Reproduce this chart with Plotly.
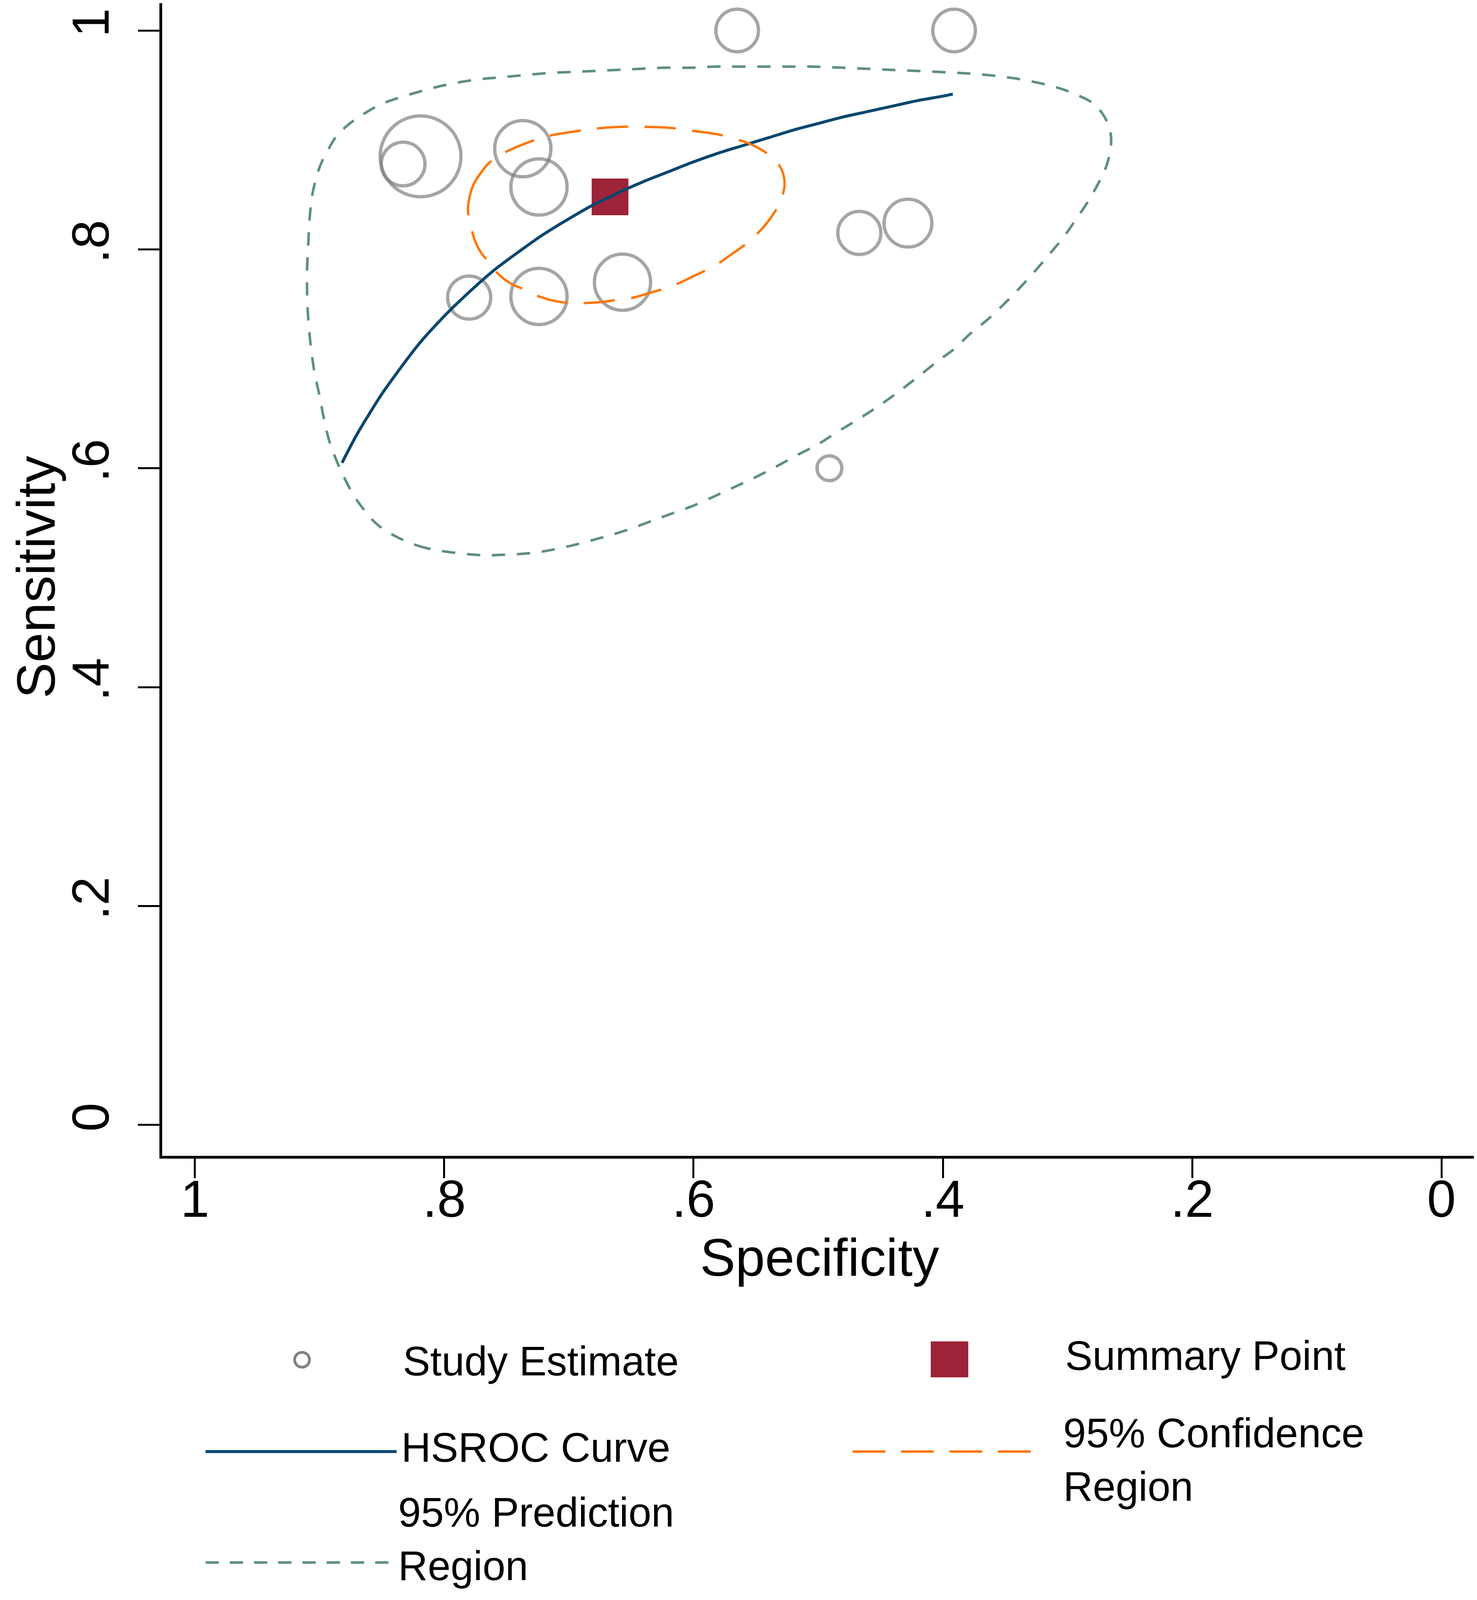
import plotly.graph_objects as go
import numpy as np


# Study estimates (specificity, sensitivity) and relative study weights
study_spec = [0.565, 0.391, 0.819, 0.833, 0.737, 0.724, 0.467, 0.428, 0.780, 0.724, 0.657, 0.491]
study_sens = [1.000, 1.000, 0.885, 0.878, 0.892, 0.857, 0.815, 0.824, 0.756, 0.757, 0.770, 0.600]
study_weight = [1.00, 1.00, 3.60, 1.05, 1.74, 1.74, 1.02, 1.26, 1.02, 1.74, 1.74, 0.34]

# Summary point
summary_spec = [0.667]
summary_sens = [0.848]

# HSROC curve
hsroc_spec = [0.882, 0.870, 0.860, 0.850, 0.840, 0.820, 0.800, 0.780, 0.760, 0.740,
              0.720, 0.700, 0.680, 0.667, 0.660, 0.640, 0.620, 0.600, 0.580, 0.560,
              0.540, 0.520, 0.500, 0.480, 0.460, 0.440, 0.420, 0.400, 0.392]
hsroc_sens = [0.605, 0.631, 0.650, 0.668, 0.684, 0.714, 0.739, 0.761, 0.781, 0.798,
              0.814, 0.828, 0.841, 0.848, 0.852, 0.862, 0.871, 0.880, 0.888, 0.895,
              0.902, 0.909, 0.915, 0.921, 0.926, 0.931, 0.936, 0.940, 0.942]

# 95% confidence region
ci_spec = [0.781, 0.777, 0.770, 0.764, 0.754, 0.743, 0.732, 0.719, 0.694, 0.682,
           0.657, 0.643, 0.618, 0.605, 0.580, 0.567, 0.556, 0.544, 0.535, 0.529,
           0.527, 0.530, 0.535, 0.542, 0.550, 0.559, 0.569, 0.579, 0.590, 0.601,
           0.612, 0.624, 0.636, 0.648, 0.661, 0.673, 0.687, 0.699, 0.712, 0.724,
           0.735, 0.747, 0.757, 0.764, 0.771, 0.776, 0.779, 0.781]
ci_sens = [0.837, 0.858, 0.871, 0.879, 0.887, 0.893, 0.898, 0.903, 0.908, 0.910,
           0.912, 0.912, 0.911, 0.909, 0.905, 0.901, 0.897, 0.890, 0.882, 0.872,
           0.859, 0.845, 0.834, 0.823, 0.813, 0.804, 0.796, 0.788, 0.781, 0.775,
           0.769, 0.764, 0.760, 0.756, 0.754, 0.752, 0.751, 0.751, 0.753, 0.757,
           0.763, 0.769, 0.778, 0.788, 0.798, 0.810, 0.824, 0.837]

# 95% prediction region
pred_spec = [0.775, 0.814, 0.832, 0.847, 0.856, 0.865, 0.873, 0.880, 0.886, 0.892,
             0.897, 0.900, 0.904, 0.907, 0.909, 0.910, 0.910, 0.909, 0.908, 0.906,
             0.903, 0.899, 0.894, 0.888, 0.879, 0.867, 0.850, 0.832, 0.814, 0.796,
             0.775, 0.757, 0.738, 0.718, 0.700, 0.679, 0.661, 0.642, 0.622, 0.601,
             0.583, 0.565, 0.544, 0.523, 0.505, 0.481, 0.441, 0.401, 0.371, 0.341,
             0.312, 0.294, 0.278, 0.268, 0.265, 0.268, 0.275, 0.284, 0.294, 0.304,
             0.315, 0.327, 0.339, 0.351, 0.364, 0.378, 0.391, 0.404, 0.424, 0.439,
             0.454, 0.469, 0.485, 0.500, 0.517, 0.533, 0.550, 0.567, 0.584, 0.602,
             0.619, 0.631, 0.655, 0.679, 0.703, 0.727, 0.751, 0.775]
pred_sens = [0.521, 0.527, 0.534, 0.543, 0.551, 0.563, 0.576, 0.591, 0.606, 0.624,
             0.648, 0.666, 0.687, 0.711, 0.735, 0.759, 0.783, 0.807, 0.828, 0.849,
             0.864, 0.878, 0.889, 0.901, 0.912, 0.922, 0.933, 0.940, 0.946, 0.951,
             0.955, 0.957, 0.959, 0.961, 0.962, 0.963, 0.964, 0.965, 0.966, 0.966,
             0.967, 0.967, 0.967, 0.967, 0.967, 0.966, 0.964, 0.962, 0.960, 0.956,
             0.949, 0.942, 0.932, 0.916, 0.901, 0.879, 0.861, 0.843, 0.826, 0.810,
             0.795, 0.779, 0.764, 0.750, 0.736, 0.723, 0.709, 0.698, 0.680, 0.667,
             0.655, 0.644, 0.633, 0.622, 0.612, 0.602, 0.592, 0.583, 0.574, 0.565,
             0.558, 0.553, 0.543, 0.535, 0.528, 0.523, 0.521, 0.521]

tick_vals = [1, 0.8, 0.6, 0.4, 0.2, 0]
tick_text = ['1', '.8', '.6', '.4', '.2', '0']


# Кольори
GRAY = '#808080'
NAVY = '#08466e'
ORANGE = '#ff7500'
CRANBERRY = '#9d2438'
GREEN = '#5e8f80'
FONT = 'Liberation Sans, Arial, sans-serif'

# Розміри (сторінка має відступ 8px, видима висота ~4096px)
OFF = 8
W, H = 3780 - OFF, 4096 - OFF
L = 415 - OFF
PLOT_BOTTOM = 2959 - OFF
B = H - PLOT_BOTTOM
PW, PH = W - L, H - B


def px(x, y):
    # піксель сторінки -> paper координати
    return (x - OFF - L) / PW, (PLOT_BOTTOM - (y - OFF)) / PH


fig = go.Figure()

fig.add_trace(go.Scatter(
    x=study_spec, y=study_sens, mode='markers',
    marker=dict(size=[109 * np.sqrt(w) for w in study_weight], color='rgba(0,0,0,0)',
                line=dict(color=GRAY, width=8.5)),
    name='Study Estimate'
))

fig.add_trace(go.Scatter(
    x=summary_spec, y=summary_sens, mode='markers',
    marker=dict(size=94, symbol='square', color=CRANBERRY, line=dict(width=0)),
    name='Summary Point'
))

fig.add_trace(go.Scatter(
    x=hsroc_spec, y=hsroc_sens, mode='lines',
    line=dict(color=NAVY, width=7.5, shape='spline'),
    name='HSROC Curve'
))

fig.add_trace(go.Scatter(
    x=ci_spec, y=ci_sens, mode='lines',
    line=dict(color=ORANGE, width=6, dash='80px,42px', shape='spline'),
    name='95% Confidence Region'
))

fig.add_trace(go.Scatter(
    x=pred_spec, y=pred_sens, mode='lines',
    line=dict(color=GREEN, width=6.5, dash='34px,30px', shape='spline'),
    name='95% Prediction Region'
))


# Легенда вручну
shapes = []
cx, cy = px(773, 3481)
shapes.append(dict(type='circle', xref='paper', yref='paper', xsizemode='pixel', ysizemode='pixel',
                   xanchor=cx, yanchor=cy, x0=-19, x1=19, y0=-19, y1=19,
                   line=dict(color=GRAY, width=7)))
sx, sy = px(2430, 3480)
shapes.append(dict(type='rect', xref='paper', yref='paper', xsizemode='pixel', ysizemode='pixel',
                   xanchor=sx, yanchor=sy, x0=-48, x1=48, y0=-46, y1=46,
                   fillcolor=CRANBERRY, line=dict(width=0)))
for (x0, x1, y), color, width, dash in [
    ((526, 1015, 3716), NAVY, 7.5, 'solid'),
    ((2182, 2676, 3716), ORANGE, 6, '84px,40px'),
    ((526, 1015, 4000), GREEN, 6.5, '34px,28px'),
]:
    a0, b0 = px(x0, y)
    a1, _ = px(x1, y)
    shapes.append(dict(type='line', xref='paper', yref='paper', x0=a0, x1=a1, y0=b0, y1=b0,
                       line=dict(color=color, width=width, dash=dash)))

annotations = []
for text, x, y in [
    ('Study Estimate', 1041, 3494),
    ('Summary Point', 2736, 3480),
    ('HSROC Curve', 1037, 3715),
    ('95% Confidence<br>Region', 2731, 3747),
    ('95% Prediction<br>Region', 1029, 3950),
]:
    ax, ay = px(x - 12, y - 10)
    annotations.append(dict(text=text, x=ax, y=ay, xref='paper', yref='paper',
                            xanchor='left', yanchor='middle', align='left', showarrow=False,
                            font=dict(size=105, family=FONT, color='black')))

# Назва осі Y
tx, ty = px(92, 1478)
annotations.append(dict(text='Sensitivity', x=tx, y=ty, xref='paper', yref='paper',
                        xanchor='center', yanchor='middle', textangle=-90, showarrow=False,
                        font=dict(size=138, family=FONT, color='black')))


fig.update_layout(
    width=W, height=H,
    margin=dict(l=L, r=0, t=0, b=B, pad=0),
    plot_bgcolor='white', paper_bgcolor='white',
    showlegend=False,
    font=dict(family=FONT, size=133, color='black'),
    shapes=shapes,
    annotations=annotations,
)

axis_style = dict(
    tickvals=tick_vals, ticktext=tick_text,
    ticks='outside', tickwidth=5, tickcolor='black',
    showline=True, linewidth=7, linecolor='black',
    showgrid=False, zeroline=False, automargin=False,
    tickfont=dict(size=133, family=FONT),
)

fig.update_xaxes(range=[1.0263, -0.0285], ticklen=50, ticklabelstandoff=-61,
                 title=dict(text='Specificity', standoff=21, font=dict(size=136)), **axis_style)
fig.update_yaxes(range=[-0.0282, 1.025], ticklen=55, tickangle=-90, ticklabelstandoff=22,
                 **axis_style)

fig.write_html("out.html")
